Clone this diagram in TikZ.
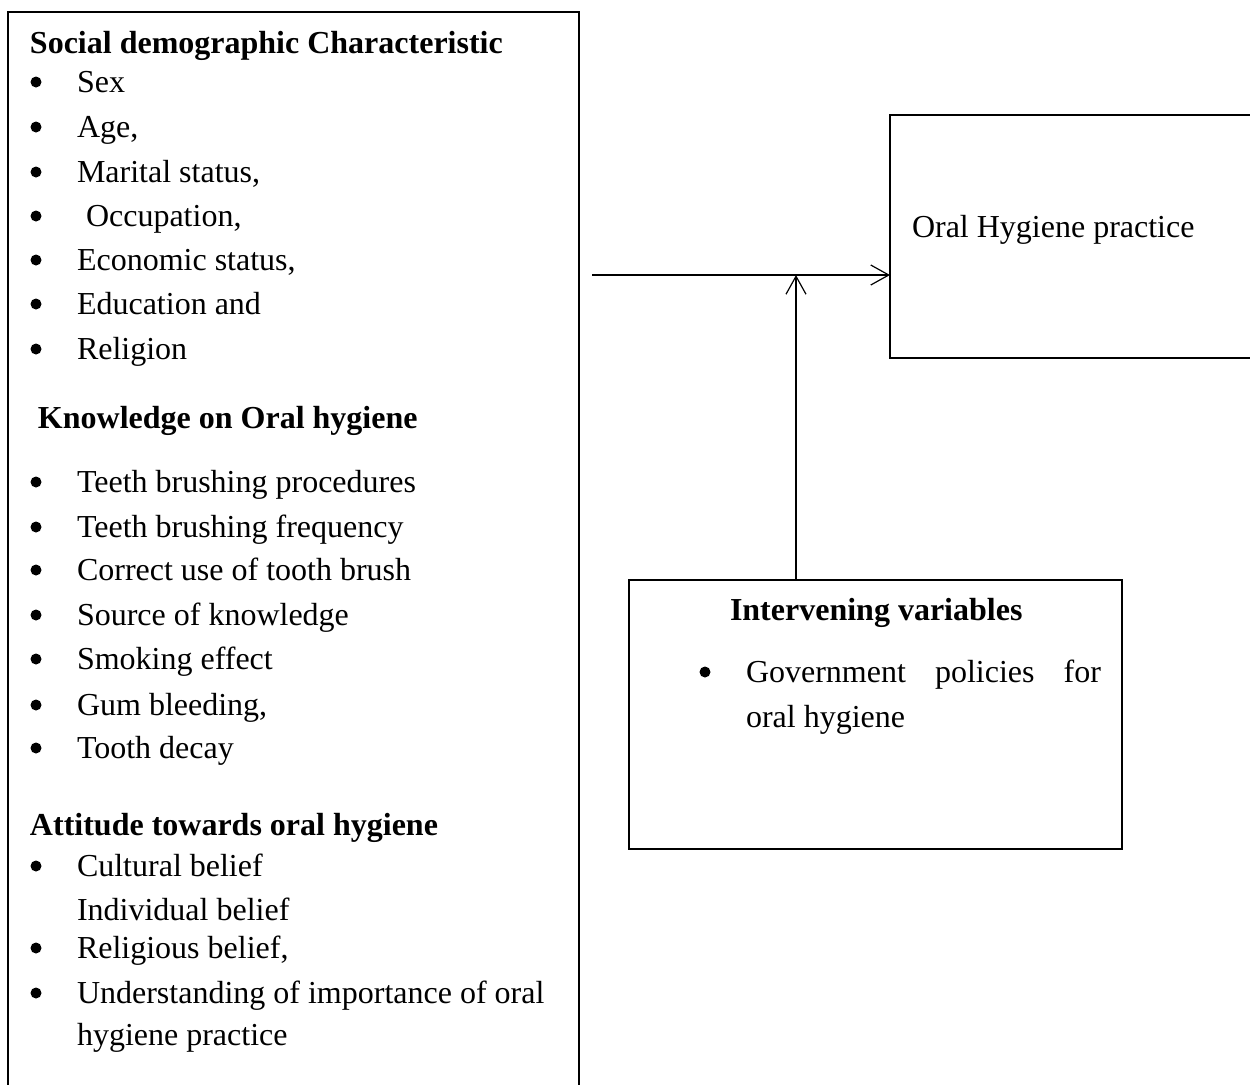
\documentclass[tikz,border=0pt]{standalone}
\usepackage{fontspec}
\setmainfont{Liberation Serif}
\usetikzlibrary{arrows.meta}

\begin{document}
\begin{tikzpicture}[x=0.5pt, y=-0.5pt,
    every node/.style={font=\fontsize{16}{22.5}\selectfont, inner sep=0pt, outer sep=0pt},
    box/.style={draw, line width=1.3pt},
    head/.style={anchor=base west, font=\fontsize{16}{22.5}\selectfont\bfseries},
    entry/.style={anchor=base west},
    link/.style={line width=0.6pt, -{Straight Barb[length=9pt, width=10pt]}}]
    \useasboundingbox (0,0) rectangle (1250,1084);
    \clip (0,0) rectangle (1250,1084);
    % the three boxes
    \node[box, anchor=north west, minimum width=285.5pt, minimum height=545pt] (factors) at (8,12) {};
    \node[box, anchor=north west, minimum width=190pt, minimum height=121.5pt] (practice) at (890,115) {};
    \node[box, anchor=north west, minimum width=246.5pt, minimum height=134.5pt] (interv) at (629,580) {};
    % independent variables
    \node[head] (socdem) at (30,53) {Social demographic Characteristic};
    \foreach \x/\y/\t [count=\i] in {77/92/Sex, 77/137/{Age,}, 77/182/{Marital status,}, 86/226/{Occupation,},
        77/270/{Economic status,}, 77/314/Education and, 77/359/Religion}
        \node[entry] (sd\i) at (\x,\y) {\t};
    \node[head] (know) at (38,428) {Knowledge on Oral hygiene};
    \foreach \y/\t [count=\i] in {492/Teeth brushing procedures, 537/Teeth brushing frequency,
        580/Correct use of tooth brush, 625/Source of knowledge, 669/Smoking effect,
        715/{Gum bleeding,}, 758/Tooth decay}
        \node[entry] (kn\i) at (77,\y) {\t};
    \node[head] (attit) at (30,835) {Attitude towards oral hygiene};
    \foreach \y/\t [count=\i] in {876/Cultural belief, 920/Individual belief, 958/{Religious belief,},
        1003/Understanding of importance of oral, 1045/hygiene practice}
        \node[entry] (at\i) at (77,\y) {\t};
    \foreach \y in {92,137,182,226,270,314,359,492,537,580,625,669,715,758,876,958,1003}
        \fill (36,{\y-10}) circle (5.5);
    % dependent variable
    \node[entry] (ptext) at (912,237) {Oral Hygiene practice};
    % intervening variables
    \node[head] (ihead) at (730,620) {Intervening variables};
    \node[entry, align=left] (itext) at (746,727)
        {\makebox[177.5pt][s]{Government\hfill policies\hfill for}\\oral hygiene};
    \fill (705,672) circle (5.5);
    % arrows
    \coordinate (src) at (592,275);
    \coordinate (meet) at (796,275);
    \draw[link] (src) -- (src -| practice.west);
    \draw[link] (interv.north -| meet) -- (meet);
\end{tikzpicture}
\end{document}
